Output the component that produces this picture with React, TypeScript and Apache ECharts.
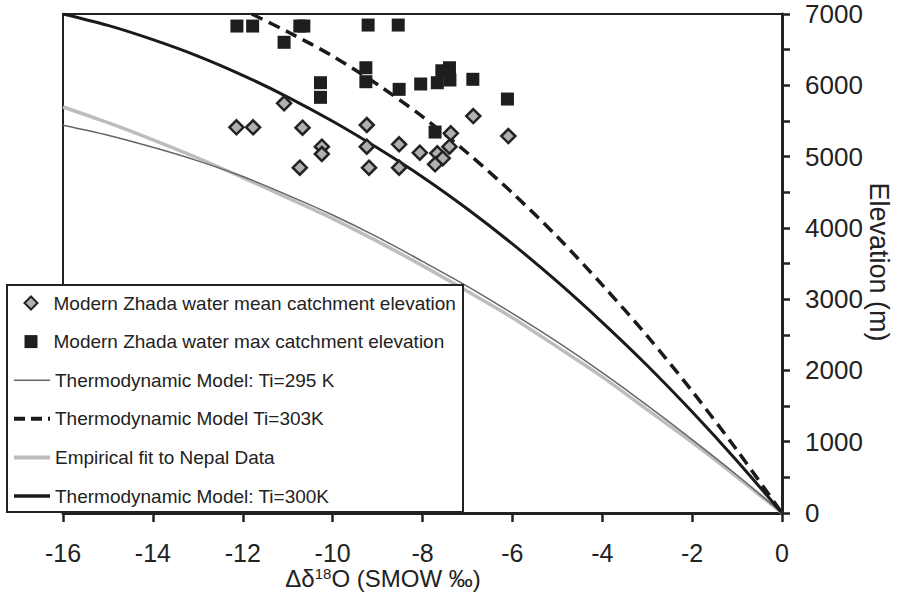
import React, { useEffect, useRef } from "react";
import * as echarts from "echarts";

const FONT = "'Liberation Sans', Arial, Helvetica, sans-serif";
const INK = "#222222";

// x positions (Δδ18O) shared by three model curves
const modelX = [-16, -15, -14, -13, -12, -11, -10, -9, -8, -7, -6, -5, -4, -3, -2, -1, 0];
const model300K = [7000, 6840, 6640, 6410, 6140, 5835, 5495, 5120, 4715, 4265, 3775, 3245, 2675, 2070, 1420, 730, 0];
const model295K = [5440, 5300, 5130, 4940, 4720, 4460, 4180, 3870, 3530, 3180, 2800, 2400, 1970, 1510, 1030, 530, 0];
const empiricalNepal = [5695, 5475, 5235, 4980, 4705, 4420, 4130, 3810, 3470, 3110, 2740, 2330, 1910, 1450, 990, 505, 0];

// 303K curve enters the plot at the top edge
const model303X = [-11.8, -11, -10, -9, -8, -7, -6, -5, -4, -3, -2, -1, 0];
const model303K = [7000, 6750, 6410, 6010, 5560, 5050, 4490, 3875, 3200, 2485, 1710, 880, 0];

// Modern Zhada water mean catchment elevation
const meanX = [-12.14, -11.77, -11.08, -10.67, -10.73, -10.24, -10.24, -9.24, -9.24, -9.19, -8.52, -8.52, -8.06, -7.67, -7.55, -7.72, -7.37, -7.4, -6.87, -6.09];
const meanY = [5410, 5410, 5747, 5405, 4844, 5138, 5036, 5443, 5138, 4844, 5172, 4844, 5054, 5046, 4975, 4891, 5326, 5138, 5569, 5288];

// Modern Zhada water max catchment elevation
const maxX = [-12.13, -11.78, -10.73, -10.64, -11.08, -9.21, -8.54, -10.27, -10.27, -9.26, -9.26, -8.52, -8.04, -7.67, -7.57, -7.4, -7.39, -6.88, -6.11, -7.72];
const maxY = [6831, 6831, 6831, 6831, 6603, 6845, 6845, 6036, 5831, 6246, 6050, 5943, 6018, 6036, 6204, 6246, 6074, 6084, 5807, 5344];

const names = {
  mean: "Modern Zhada water mean catchment elevation",
  max: "Modern Zhada water max catchment elevation",
  t295: "Thermodynamic Model: Ti=295 K",
  t303: "Thermodynamic Model Ti=303K",
  emp: "Empirical fit to Nepal Data",
  t300: "Thermodynamic Model: Ti=300K",
};

const zip = (xs: number[], ys: number[]) => xs.map((x, i) => [x, ys[i]]);

export default function App() {
  const ref = useRef<HTMLDivElement>(null);

  useEffect(() => {
    if (!ref.current) return;
    const chart = echarts.init(ref.current, undefined, { renderer: "svg" });
    const legendText = { fontSize: 19, lineHeight: 22, color: INK, fontFamily: FONT };
    const option: any = {
      animation: false,
      backgroundColor: "#ffffff",
      textStyle: { fontFamily: FONT },
      grid: {
        left: 63,
        right: 116,
        top: 14,
        bottom: 82,
        show: true,
        borderColor: INK,
        borderWidth: 2,
        backgroundColor: "transparent",
        containLabel: false,
        outerBoundsMode: "none",
      },
      xAxis: {
        type: "value",
        min: -16,
        max: 0,
        interval: 2,
        axisLine: { show: true, onZero: false, lineStyle: { color: INK, width: 3 } },
        axisTick: { show: true, inside: false, length: 9, lineStyle: { color: INK, width: 2.5 } },
        axisLabel: {
          show: true,
          margin: 27,
          fontSize: 25,
          lineHeight: 25,
          color: INK,
          fontFamily: FONT,
          showMinLabel: true,
          showMaxLabel: true,
        },
        splitLine: { show: false },
      },
      yAxis: {
        type: "value",
        position: "right",
        min: 0,
        max: 7000,
        interval: 1000,
        axisLine: { show: true, onZero: false, lineStyle: { color: INK, width: 3 } },
        axisTick: { show: true, inside: false, length: 8, lineStyle: { color: INK, width: 2.5 } },
        minorTick: { show: true, splitNumber: 2, length: 8, lineStyle: { color: INK, width: 2.5 } },
        axisLabel: {
          show: true,
          margin: 23,
          fontSize: 26,
          color: INK,
          fontFamily: FONT,
          formatter: (v: number) => String(v),
        },
        splitLine: { show: false },
        minorSplitLine: { show: false },
      },
      legend: [
        {
          orient: "vertical",
          left: 23.5,
          top: 292,
          padding: 0,
          itemWidth: 13,
          itemHeight: 13,
          itemGap: 16.6,
          z: 100,
          selectedMode: false,
          textStyle: { ...legendText, padding: [0, 0, 0, 11] },
          data: [
            { name: names.mean, icon: "diamond" },
            { name: names.max, icon: "rect" },
          ],
        },
        {
          orient: "vertical",
          left: 12,
          top: 369.2,
          padding: 0,
          itemWidth: 36,
          itemHeight: 13,
          itemGap: 16.6,
          z: 100,
          selectedMode: false,
          itemStyle: { opacity: 0 },
          textStyle: legendText,
          data: [
            { name: names.t295, lineStyle: { color: "#666666", width: 1.5 } },
            { name: names.t303, lineStyle: { color: "#1a1a1a", width: 4, type: [11, 6] } },
            { name: names.emp, lineStyle: { color: "#bdbdbd", width: 4 } },
            { name: names.t300, lineStyle: { color: "#1a1a1a", width: 3.5 } },
          ],
        },
      ],
      graphic: [
        {
          type: "rect",
          z: 50,
          shape: { x: 7, y: 285, width: 456, height: 227 },
          style: { fill: "#ffffff", stroke: INK, lineWidth: 2 },
        },
        {
          type: "text",
          x: 383,
          y: 578,
          z: 50,
          style: {
            text: "Δδ{sup|18}O (SMOW ‰)",
            fontSize: 24,
            lineHeight: 24,
            fontFamily: FONT,
            fill: INK,
            align: "center",
            verticalAlign: "middle",
            rich: {
              sup: { fontSize: 15, lineHeight: 24, fontFamily: FONT, fill: INK, verticalAlign: "top" },
            },
          },
        },
        {
          type: "text",
          x: 879,
          y: 262,
          rotation: -Math.PI / 2,
          z: 50,
          style: {
            text: "Elevation (m)",
            fontSize: 27,
            lineHeight: 30,
            fontFamily: FONT,
            fill: INK,
            align: "center",
            verticalAlign: "middle",
          },
        },
      ],
      series: [
        {
          name: names.emp,
          type: "line",
          smooth: 0.3,
          symbol: "none",
          data: zip(modelX, empiricalNepal),
          lineStyle: { color: "#bdbdbd", width: 3.5 },
          itemStyle: { color: "#bdbdbd" },
          z: 2,
        },
        {
          name: names.t295,
          type: "line",
          smooth: 0.3,
          symbol: "none",
          data: zip(modelX, model295K),
          lineStyle: { color: "#666666", width: 1.5 },
          itemStyle: { color: "#666666" },
          z: 3,
        },
        {
          name: names.t303,
          type: "line",
          smooth: 0.3,
          symbol: "none",
          data: zip(model303X, model303K),
          lineStyle: { color: "#1a1a1a", width: 3.5, type: [12, 7] },
          itemStyle: { color: "#1a1a1a" },
          z: 4,
        },
        {
          name: names.t300,
          type: "line",
          smooth: 0.3,
          symbol: "none",
          data: zip(modelX, model300K),
          lineStyle: { color: "#1a1a1a", width: 3 },
          itemStyle: { color: "#1a1a1a" },
          z: 4,
        },
        {
          name: names.mean,
          type: "scatter",
          symbol: "diamond",
          symbolSize: 14,
          data: zip(meanX, meanY),
          itemStyle: { color: "#b0b0b0", borderColor: "#222222", borderWidth: 2.5, opacity: 1 },
          z: 6,
        },
        {
          name: names.max,
          type: "scatter",
          symbol: "rect",
          symbolSize: 13,
          data: zip(maxX, maxY),
          itemStyle: { color: "#1e1e1e", opacity: 1 },
          z: 6,
        },
      ],
    };
    chart.setOption(option);
    return () => chart.dispose();
  }, []);

  return (
    <div
      ref={ref}
      style={{ position: "fixed", left: 0, top: 0, width: 898, height: 595, background: "#fff" }}
    />
  );
}
